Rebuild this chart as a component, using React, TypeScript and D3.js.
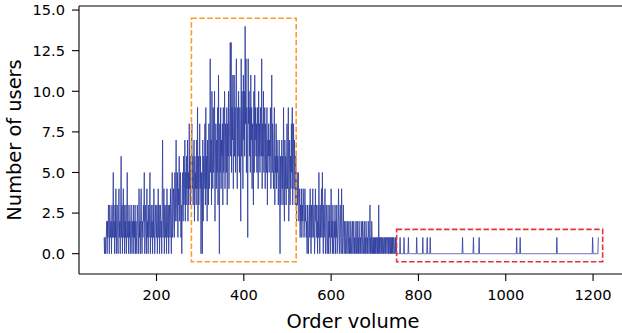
import React from "react";
import * as d3 from "d3";

// Consecutive order volumes starting at START_VOLUME (dense part)
const START_VOLUME = 80;
const denseUsers: number[] = [
  1,0,1,0,1,1,2,0,2,1,
  3,2,0,3,2,1,2,0,3,1,
  2,5,1,2,0,3,1,4,0,2,
  3,1,0,2,4,1,2,0,3,6,
  1,3,0,2,4,1,3,0,2,1,
  3,0,2,5,1,2,0,3,1,2,
  0,2,3,1,0,2,1,3,0,2,
  1,3,0,2,1,0,3,2,1,0,
  4,1,2,0,3,4,1,0,2,1,
  3,2,5,0,1,3,2,0,4,1,
  2,0,3,1,2,5,0,2,3,1,
  2,0,3,1,4,2,0,1,3,2,
  1,3,0,2,4,1,3,0,2,3,
  1,2,0,3,7,1,2,4,0,3,
  2,1,3,0,4,2,1,3,0,2,
  3,1,4,2,0,3,5,1,2,4,
  3,1,5,2,4,7,3,2,5,1,
  4,3,6,2,4,5,1,3,0,4,
  5,2,6,3,4,7,2,5,3,6,
  4,7,2,5,3,8,4,6,3,5,
  7,8,4,6,3,5,7,2,6,4,
  5,3,7,4,9,2,6,3,5,8,
  4,6,0,5,3,0,7,2,6,4,
  5,8,3,9,4,6,2,7,5,3,
  8,4,6,12,5,7,3,10,6,4,
  9,5,7,10,2,6,8,4,7,5,
  9,3,11,6,0,8,5,9,4,7,
  6,8,3,9,5,7,10,4,8,6,
  5,9,3,8,6,10,4,7,9,13,
  6,13,5,9,7,11,4,8,11,6,
  9,5,10,12,7,4,9,6,10,8,
  5,9,7,2,12,6,10,8,4,11,
  7,10,6,14,8,12,5,9,7,1,
  12,8,10,6,9,5,11,7,9,4,
  8,6,3,10,5,11,7,9,6,8,
  5,9,7,4,10,6,8,5,9,7,
  6,12,4,8,6,10,5,7,9,4,
  8,6,5,9,3,7,6,8,5,7,
  6,9,4,7,11,5,8,6,4,7,
  9,3,6,5,8,4,7,5,6,3,
  5,7,4,0,6,3,5,7,4,6,
  3,9,5,2,7,4,6,3,5,8,
  4,6,9,2,5,7,3,6,4,8,
  5,9,3,6,8,4,7,5,3,6,
  4,2,5,3,4,5,2,3,4,1,
  3,2,4,1,3,2,4,3,1,2,
  4,2,3,1,2,0,3,1,0,2,
  3,1,4,2,0,3,1,2,4,1,
  2,3,0,1,4,2,3,1,2,0,
  3,1,5,2,0,3,1,2,4,1,
  5,2,0,3,1,2,4,0,1,3,
  2,0,1,3,0,2,1,3,0,1,
  4,1,2,0,3,1,0,2,1,3,
  0,2,1,3,0,1,2,4,1,0,
  2,3,1,0,4,2,0,1,3,1,
  0,2,1,0,2,1,0,1,2,0,
  1,2,0,1,0,2,1,0,1,2,
  0,1,2,0,1,0,1,2,0,1,
  2,0,1,0,2,1,0,1,0,2,
  1,0,2,1,0,1,2,0,1,0,
  2,1,0,1,0,2,1,0,1,3,
  0,1,0,2,1,0,1,0,1,0,
  1,0,1,0,1,1,0,1,0,3,
  0,1,0,1,1,0,1,0,1,1,
  0,1,1,0,1,0,1,1,0,1,
  1,0,1,0,1,1,0,1,0,1,
  0,1,0,1,1,0,0,1,0,1,
];

// Sparse tail: volumes with exactly one user (all others zero) up to the last volume
const tailOneUserVolumes: number[] = [758, 767, 777, 796, 810, 820, 827, 901, 926, 939, 1025, 1033, 1117, 1199, 1212];
const LAST_VOLUME = 1212;

const xTicks = [200, 400, 600, 800, 1000, 1200];
const yTicks = [0, 2.5, 5, 7.5, 10, 12.5, 15];

// Highlight rectangles [x0, x1, y0, y1]
const peakBox = [280, 520, -0.5, 14.5];
const tailBox = [750, 1222, -0.5, 1.5];

type Pt = { v: number; n: number };

function buildSeries(): Pt[] {
  const pts: Pt[] = denseUsers.map((n, i) => ({ v: START_VOLUME + i, n }));
  const ones = new Set(tailOneUserVolumes);
  for (let v = START_VOLUME + denseUsers.length; v <= LAST_VOLUME; v++) {
    pts.push({ v, n: ones.has(v) ? 1 : 0 });
  }
  return pts;
}

export default function App() {
  const W = 622;
  const H = 333;
  const left = 79;
  const top = 6;
  const bottom = 274;
  const right = 628;
  const tickLen = 7;
  const data = buildSeries();

  const x = d3.scaleLinear().domain([22.5, 1280]).range([left, right]);
  const y = d3.scaleLinear().domain([-1.25, 15.25]).range([bottom, top]);

  const line = d3
    .line<Pt>()
    .x((d) => x(d.v))
    .y((d) => y(d.n));

  const font = "DejaVu Sans, sans-serif";

  const rect = (b: number[], color: string, key: string) => (
    <rect
      key={key}
      x={x(b[0])}
      y={y(b[3])}
      width={x(b[1]) - x(b[0])}
      height={y(b[2]) - y(b[3])}
      fill="none"
      stroke={color}
      strokeWidth={1.6}
      strokeDasharray="5.5,2.4"
    />
  );

  return (
    <svg
      width={W}
      height={H}
      style={{ position: "absolute", left: 0, top: 0, background: "#fff" }}
      fontFamily={font}
    >
      <rect x={0} y={0} width={W} height={H} fill="#fff" />
      <path
        d={line(data) || ""}
        fill="none"
        stroke="#2a3a9e"
        strokeOpacity={0.8}
        strokeWidth={1}
      />
      {rect(peakBox, "#fd9a2b", "peak")}
      {rect(tailBox, "#e5333a", "tail")}
      {/* spines */}
      <line x1={left} x2={left} y1={top} y2={bottom} stroke="#000" strokeWidth={1.1} />
      <line x1={left} x2={right} y1={bottom} y2={bottom} stroke="#000" strokeWidth={1.1} />
      <line x1={left} x2={right} y1={top} y2={top} stroke="#000" strokeWidth={1.1} />
      {/* x ticks */}
      {xTicks.map((t) => (
        <g key={"x" + t}>
          <line x1={x(t)} x2={x(t)} y1={bottom} y2={bottom + tickLen} stroke="#000" strokeWidth={1.1} />
          <text x={x(t)} y={300} textAnchor="middle" fontSize={14.6} fill="#000">
            {t}
          </text>
        </g>
      ))}
      {/* y ticks */}
      {yTicks.map((t) => (
        <g key={"y" + t}>
          <line x1={left - tickLen} x2={left} y1={y(t)} y2={y(t)} stroke="#000" strokeWidth={1.1} />
          <text x={65} y={y(t) + 5.3} textAnchor="end" fontSize={14.6} fill="#000">
            {t.toFixed(1)}
          </text>
        </g>
      ))}
      <text x={353} y={327.5} textAnchor="middle" fontSize={19.4} fill="#000">
        Order volume
      </text>
      <text
        transform={`translate(21, ${(top + bottom) / 2}) rotate(-90)`}
        textAnchor="middle"
        fontSize={19.4}
        fill="#000"
      >
        Number of users
      </text>
    </svg>
  );
}
